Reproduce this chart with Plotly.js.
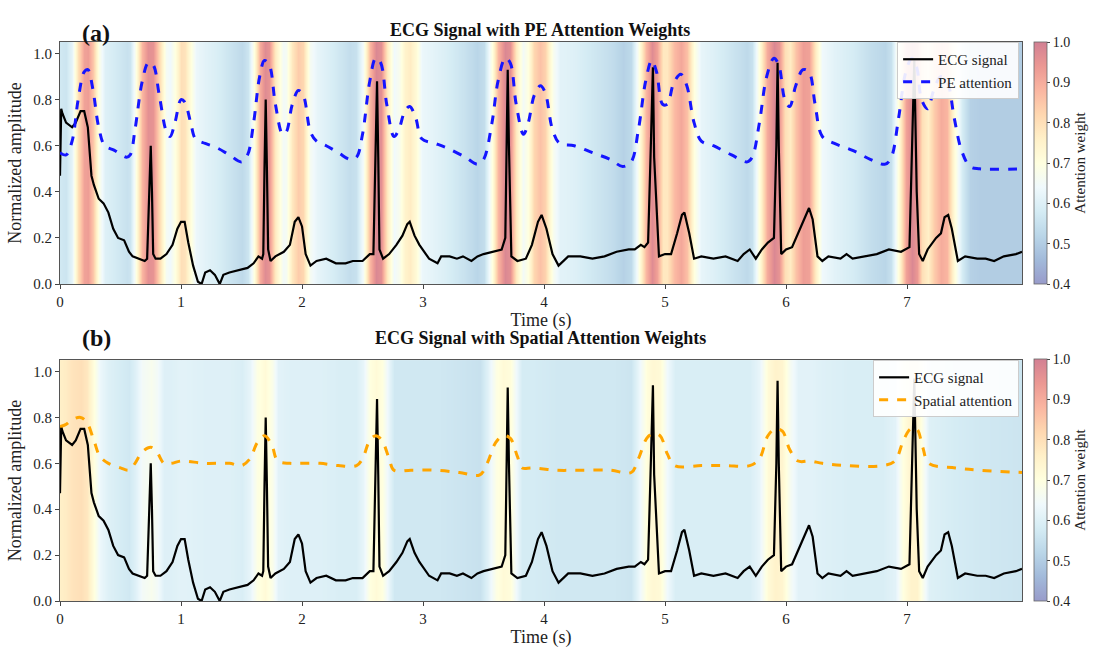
<!DOCTYPE html>
<html><head><meta charset="utf-8">
<script src="https://cdn.plot.ly/plotly-3.0.1.min.js"></script>
<style>body{margin:0;background:#fff}#c{width:1101px;height:649px}</style></head>
<body><div id="c"></div>
<script>
const ecgT=[0,0.01,0.02,0.05,0.10,0.13,0.17,0.20,0.23,0.26,0.28,0.32,0.36,0.40,0.44,0.48,0.53,0.57,0.60,0.65,0.70,0.72,0.74,0.75,0.76,0.77,0.79,0.83,0.88,0.93,0.97,1.00,1.03,1.06,1.10,1.14,1.17,1.20,1.24,1.28,1.32,1.35,1.40,1.48,1.55,1.60,1.64,1.67,1.68,1.69,1.70,1.71,1.72,1.74,1.78,1.85,1.90,1.94,1.97,2.00,2.03,2.07,2.12,2.20,2.28,2.36,2.42,2.50,2.56,2.59,2.61,2.62,2.63,2.64,2.67,2.72,2.78,2.83,2.87,2.89,2.93,2.97,3.05,3.12,3.15,3.22,3.28,3.33,3.40,3.45,3.50,3.58,3.65,3.68,3.69,3.70,3.71,3.73,3.78,3.85,3.90,3.95,3.98,4.02,4.07,4.12,4.20,4.30,4.40,4.50,4.60,4.70,4.75,4.80,4.83,4.86,4.88,4.90,4.91,4.93,4.95,5.00,5.05,5.10,5.14,5.16,5.20,5.24,5.30,5.40,5.50,5.60,5.65,5.70,5.75,5.80,5.85,5.90,5.92,5.93,5.94,5.96,6.00,6.05,6.10,6.15,6.19,6.22,6.26,6.30,6.35,6.45,6.50,6.55,6.65,6.75,6.85,6.95,7.02,7.04,7.06,7.08,7.10,7.13,7.17,7.24,7.28,7.31,7.34,7.37,7.42,7.48,7.58,7.65,7.72,7.80,7.90,7.95];
const ecgV=[0.47,0.76,0.74,0.70,0.68,0.70,0.75,0.75,0.68,0.47,0.43,0.37,0.35,0.31,0.24,0.20,0.19,0.14,0.12,0.11,0.10,0.11,0.40,0.60,0.40,0.13,0.11,0.11,0.13,0.17,0.24,0.27,0.27,0.18,0.08,0.01,0.00,0.05,0.06,0.04,0.00,0.04,0.05,0.06,0.07,0.09,0.12,0.11,0.13,0.50,0.80,0.50,0.15,0.10,0.12,0.14,0.17,0.27,0.29,0.25,0.13,0.08,0.10,0.11,0.09,0.09,0.10,0.10,0.13,0.13,0.60,0.88,0.55,0.15,0.11,0.13,0.17,0.21,0.26,0.27,0.21,0.17,0.11,0.09,0.12,0.12,0.11,0.12,0.10,0.12,0.13,0.14,0.15,0.20,0.60,0.93,0.60,0.12,0.10,0.11,0.17,0.27,0.30,0.24,0.13,0.08,0.12,0.12,0.11,0.12,0.14,0.15,0.15,0.17,0.16,0.18,0.55,0.94,0.55,0.30,0.12,0.13,0.13,0.22,0.30,0.31,0.22,0.11,0.12,0.11,0.12,0.10,0.13,0.15,0.11,0.15,0.18,0.20,0.60,0.96,0.60,0.13,0.15,0.16,0.22,0.28,0.33,0.28,0.12,0.10,0.12,0.11,0.13,0.11,0.12,0.13,0.15,0.14,0.16,0.55,0.97,0.40,0.13,0.10,0.15,0.20,0.22,0.29,0.30,0.24,0.10,0.12,0.11,0.11,0.10,0.12,0.13,0.14];
const peT=[0,0.05,0.10,0.15,0.20,0.23,0.27,0.32,0.37,0.45,0.55,0.58,0.62,0.68,0.73,0.77,0.82,0.88,0.91,0.95,1.00,1.03,1.08,1.12,1.20,1.30,1.40,1.50,1.55,1.60,1.65,1.69,1.73,1.78,1.84,1.87,1.92,1.97,2.01,2.07,2.12,2.20,2.30,2.40,2.45,2.50,2.56,2.61,2.65,2.70,2.76,2.80,2.85,2.89,2.94,2.99,3.10,3.20,3.35,3.45,3.50,3.57,3.62,3.68,3.72,3.77,3.83,3.87,3.92,3.97,4.01,4.07,4.13,4.25,4.40,4.55,4.65,4.72,4.78,4.84,4.89,4.93,4.98,5.02,5.07,5.13,5.18,5.24,5.30,5.40,5.55,5.68,5.72,5.78,5.84,5.90,5.94,5.99,6.03,6.08,6.14,6.19,6.24,6.30,6.40,6.55,6.70,6.82,6.87,6.93,6.99,7.04,7.08,7.12,7.17,7.22,7.28,7.33,7.39,7.45,7.52,7.60,7.95];
const peV=[0.57,0.56,0.62,0.80,0.92,0.93,0.85,0.68,0.60,0.58,0.55,0.56,0.67,0.88,0.96,0.95,0.82,0.66,0.64,0.70,0.80,0.79,0.70,0.63,0.61,0.59,0.56,0.53,0.56,0.70,0.90,0.97,0.95,0.78,0.65,0.66,0.78,0.84,0.82,0.66,0.62,0.60,0.57,0.54,0.55,0.65,0.88,0.98,0.96,0.78,0.64,0.67,0.75,0.77,0.72,0.63,0.61,0.59,0.55,0.52,0.54,0.70,0.88,0.98,0.96,0.78,0.65,0.70,0.82,0.86,0.83,0.67,0.61,0.60,0.57,0.54,0.51,0.53,0.67,0.88,0.97,0.92,0.78,0.78,0.87,0.91,0.86,0.70,0.62,0.60,0.56,0.53,0.55,0.70,0.90,0.98,0.95,0.80,0.77,0.86,0.93,0.92,0.78,0.64,0.61,0.58,0.54,0.52,0.55,0.72,0.92,0.98,0.94,0.80,0.76,0.84,0.90,0.88,0.72,0.58,0.51,0.50,0.50];
const spT=[0,0.05,0.10,0.17,0.22,0.28,0.33,0.40,0.50,0.57,0.62,0.68,0.75,0.80,0.86,0.92,1.00,1.20,1.40,1.50,1.57,1.63,1.69,1.75,1.80,1.90,2.00,2.15,2.30,2.45,2.50,2.56,2.61,2.66,2.72,2.76,2.90,3.10,3.30,3.47,3.53,3.60,3.66,3.72,3.78,3.82,3.90,4.10,4.30,4.55,4.72,4.78,4.85,4.90,4.96,5.02,5.08,5.30,5.50,5.70,5.78,5.85,5.91,5.97,6.03,6.10,6.20,6.30,6.50,6.80,6.90,6.97,7.03,7.08,7.13,7.18,7.40,7.60,7.95];
const spV=[0.76,0.77,0.79,0.80,0.78,0.70,0.63,0.60,0.58,0.57,0.60,0.65,0.67,0.65,0.60,0.60,0.61,0.60,0.60,0.59,0.62,0.69,0.72,0.68,0.61,0.60,0.60,0.60,0.59,0.59,0.62,0.70,0.72,0.70,0.62,0.57,0.57,0.57,0.56,0.55,0.60,0.69,0.72,0.71,0.63,0.58,0.58,0.57,0.57,0.57,0.56,0.62,0.71,0.73,0.72,0.64,0.59,0.59,0.59,0.59,0.62,0.72,0.75,0.74,0.66,0.61,0.61,0.60,0.59,0.59,0.61,0.70,0.75,0.75,0.67,0.60,0.58,0.57,0.56];

const a=0.5;
const base=[[0,[49,54,149]],[0.1,[69,117,180]],[0.2,[116,173,209]],[0.3,[171,217,233]],[0.4,[224,243,248]],[0.5,[255,255,191]],[0.6,[254,224,144]],[0.7,[253,174,97]],[0.8,[244,109,67]],[0.9,[215,48,39]],[1,[165,0,38]]];
const cs=base.map(([p,c])=>[p,'rgb('+c.map(v=>Math.round(255-a*(255-v))).join(',')+')']);
const F='Liberation Serif';
function hm(t,v,xa,ya,y0){
  return {type:'heatmap',x:t,y:[0,1],z:[v,v],xaxis:xa,yaxis:ya,zsmooth:'best',colorscale:cs,zmin:0.4,zmax:1.0,showlegend:false,hoverinfo:'skip',
   colorbar:{x:1.012,xanchor:'left',xpad:0,ypad:0,y:y0,yanchor:'bottom',len:0.433,lenmode:'fraction',thickness:13,outlinewidth:0.8,outlinecolor:'#666',
   tickvals:[0.4,0.5,0.6,0.7,0.8,0.9,1.0],ticktext:['0.4','0.5','0.6','0.7','0.8','0.9','1.0'],ticks:'outside',ticklen:3,tickfont:{family:F,size:14,color:'#222'},
   title:{text:'Attention weight',side:'right',font:{family:F,size:15,color:'#222'}}}};
}
const data=[
 hm(peT,peV,'x','y',0.567),
 {type:'scatter',mode:'lines',x:ecgT,y:ecgV,name:'ECG signal',line:{color:'black',width:2.2},xaxis:'x',yaxis:'y'},
 {type:'scatter',mode:'lines',x:peT,y:peV,name:'PE attention',line:{color:'#1515ff',width:3,dash:'dash',shape:'spline'},xaxis:'x',yaxis:'y',legend:'legend'},
 hm(spT,spV,'x2','y2',0),
 {type:'scatter',mode:'lines',x:ecgT,y:ecgV,name:'ECG signal',line:{color:'black',width:2.2},xaxis:'x2',yaxis:'y2',legend:'legend2'},
 {type:'scatter',mode:'lines',x:spT,y:spV,name:'Spatial attention',line:{color:'#ffa500',width:3,dash:'dash',shape:'spline'},xaxis:'x2',yaxis:'y2',legend:'legend2'}
];
const ax={range:[0,7.95],tickvals:[0,1,2,3,4,5,6,7],ticks:'outside',ticklen:4,showline:true,mirror:true,linecolor:'#555',gridcolor:'rgba(200,200,200,0.4)',tickfont:{family:F,size:15,color:'#222'},zeroline:false};
const ay={range:[0,1.05],tickvals:[0,0.2,0.4,0.6,0.8,1.0],ticktext:['0.0','0.2','0.4','0.6','0.8','1.0'],ticks:'outside',ticklen:4,showline:true,mirror:true,linecolor:'#555',gridcolor:'rgba(200,200,200,0.4)',tickfont:{family:F,size:15,color:'#222'},zeroline:false,
 title:{text:'Normalized amplitude',font:{family:F,size:18,color:'#222'},standoff:6}};
const xt={text:'Time (s)',font:{family:F,size:18,color:'#222'},standoff:2};
const leg={x:0.997,xanchor:'right',y:1.0,yanchor:'top',bgcolor:'rgba(255,255,255,0.9)',bordercolor:'#ccc',borderwidth:1,font:{family:F,size:15,color:'#222'},tracegroupgap:0};
const layout={width:1101,height:649,margin:{l:60,r:79,t:42,b:48,autoexpand:false},paper_bgcolor:'#fff',plot_bgcolor:'#fff',
 xaxis:Object.assign({},ax,{anchor:'y',title:xt}),
 yaxis:Object.assign({},ay,{domain:[0.567,1],anchor:'x'}),
 xaxis2:Object.assign({},ax,{anchor:'y2',title:xt}),
 yaxis2:Object.assign({},ay,{domain:[0,0.431],anchor:'x2'}),
 legend:Object.assign({},leg,{y:1.0}),
 legend2:Object.assign({},leg,{y:0.431}),
 annotations:[]};
function py(p){return (649-48-p)/559;}
function px(p){return (p-60)/962;}
function ann(t,x,y,s){layout.annotations.push({text:t,x:px(x),y:py(y),xref:'paper',yref:'paper',showarrow:false,font:{family:F,size:s,color:'#111'}});}
ann('<b>ECG Signal with PE Attention Weights</b>',540,18,18);
ann('<b>ECG Signal with Spatial Attention Weights</b>',540,338,18);
ann('<b>(a)</b>',80,18,24);
ann('<b>(b)</b>',80,338,24);
Plotly.newPlot('c',data,layout,{displayModeBar:false});
</script></body></html>
